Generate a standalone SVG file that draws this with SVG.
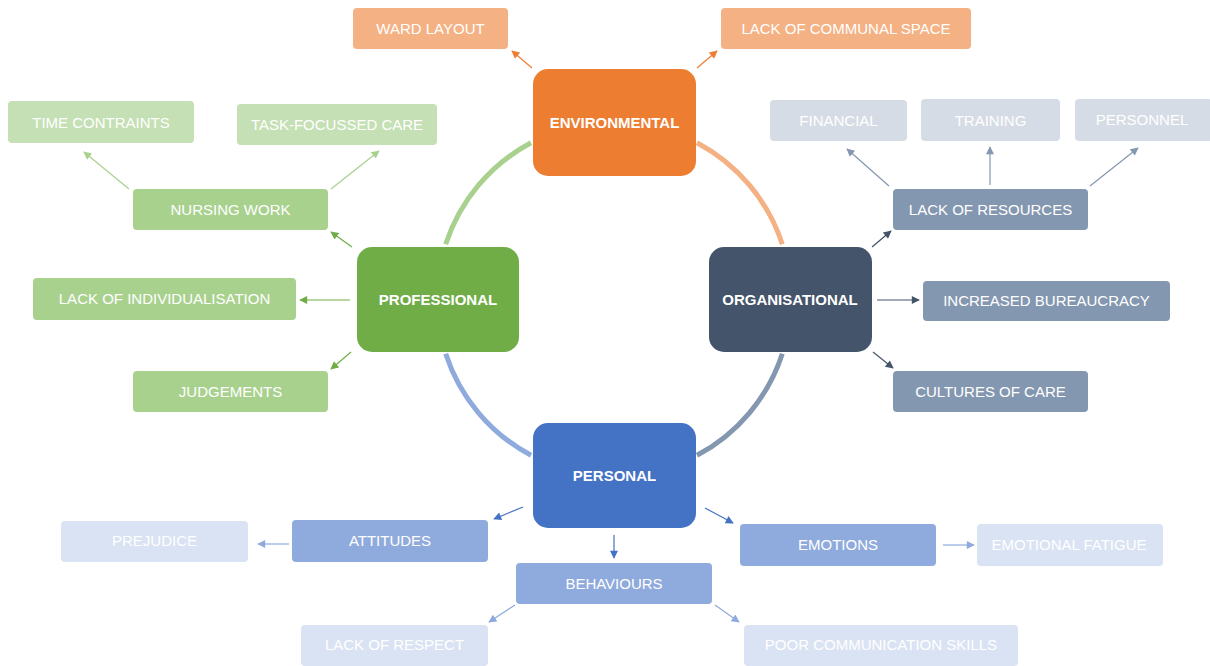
<svg xmlns="http://www.w3.org/2000/svg" width="1210" height="666" viewBox="0 0 1210 666">
<style>
text{font-family:"Liberation Sans",Arial,sans-serif;fill:#fff;text-anchor:middle;dominant-baseline:central}
.m{font-size:15px;font-weight:bold}
.s{font-size:15px}
.arc{fill:none;stroke-width:5}
.c{fill:none;stroke-width:1.2}
</style>
<defs>
<marker id="aO" viewBox="0 0 10 10" refX="9" refY="5" markerWidth="9" markerHeight="8" markerUnits="userSpaceOnUse" orient="auto"><path d="M0,0L10,5L0,10z" fill="#ED7D31"/></marker>
<marker id="aG" viewBox="0 0 10 10" refX="9" refY="5" markerWidth="9" markerHeight="8" markerUnits="userSpaceOnUse" orient="auto"><path d="M0,0L10,5L0,10z" fill="#70AD47"/></marker>
<marker id="aLG" viewBox="0 0 10 10" refX="9" refY="5" markerWidth="9" markerHeight="8" markerUnits="userSpaceOnUse" orient="auto"><path d="M0,0L10,5L0,10z" fill="#A9D18E"/></marker>
<marker id="aD" viewBox="0 0 10 10" refX="9" refY="5" markerWidth="9" markerHeight="8" markerUnits="userSpaceOnUse" orient="auto"><path d="M0,0L10,5L0,10z" fill="#44546A"/></marker>
<marker id="aS" viewBox="0 0 10 10" refX="9" refY="5" markerWidth="9" markerHeight="8" markerUnits="userSpaceOnUse" orient="auto"><path d="M0,0L10,5L0,10z" fill="#8497B0"/></marker>
<marker id="aB" viewBox="0 0 10 10" refX="9" refY="5" markerWidth="9" markerHeight="8" markerUnits="userSpaceOnUse" orient="auto"><path d="M0,0L10,5L0,10z" fill="#4472C4"/></marker>
<marker id="aLB" viewBox="0 0 10 10" refX="9" refY="5" markerWidth="9" markerHeight="8" markerUnits="userSpaceOnUse" orient="auto"><path d="M0,0L10,5L0,10z" fill="#8FAADC"/></marker>
</defs>
<g id="connectors">
<path class="arc" stroke="#A9D18E" d="M445.7,244.3A177,177 0 0 1 531,142.7"/>
<path class="arc" stroke="#F4B183" d="M697,142.7A177,177 0 0 1 782.3,244.3"/>
<path class="arc" stroke="#8497B0" d="M782.3,353.7A177,177 0 0 1 697,455.3"/>
<path class="arc" stroke="#8FAADC" d="M531,455.3A177,177 0 0 1 445.7,353.7"/>
<line class="c" stroke="#ED7D31" marker-end="url(#aO)" x1="532" y1="68" x2="512" y2="51"/>
<line class="c" stroke="#ED7D31" marker-end="url(#aO)" x1="697" y1="68" x2="717" y2="51"/>
<line class="c" stroke="#70AD47" marker-end="url(#aG)" x1="352" y1="247" x2="331" y2="232"/>
<line class="c" stroke="#70AD47" marker-end="url(#aG)" x1="350" y1="300" x2="300" y2="300"/>
<line class="c" stroke="#70AD47" marker-end="url(#aG)" x1="351" y1="352" x2="331" y2="369"/>
<line class="c" stroke="#A9D18E" marker-end="url(#aLG)" x1="129" y1="189" x2="84" y2="152"/>
<line class="c" stroke="#A9D18E" marker-end="url(#aLG)" x1="331" y1="189" x2="379" y2="151"/>
<line class="c" stroke="#44546A" marker-end="url(#aD)" x1="872" y1="247" x2="891" y2="231"/>
<line class="c" stroke="#44546A" marker-end="url(#aD)" x1="877" y1="300" x2="919" y2="300"/>
<line class="c" stroke="#44546A" marker-end="url(#aD)" x1="873" y1="352" x2="893" y2="368"/>
<line class="c" stroke="#8497B0" marker-end="url(#aS)" x1="889" y1="186" x2="847" y2="149"/>
<line class="c" stroke="#8497B0" marker-end="url(#aS)" x1="990" y1="185" x2="990" y2="147"/>
<line class="c" stroke="#8497B0" marker-end="url(#aS)" x1="1090" y1="186" x2="1138" y2="148"/>
<line class="c" stroke="#4472C4" marker-end="url(#aB)" x1="523" y1="507" x2="494" y2="519"/>
<line class="c" stroke="#4472C4" marker-end="url(#aB)" x1="614" y1="535" x2="614" y2="558"/>
<line class="c" stroke="#4472C4" marker-end="url(#aB)" x1="705" y1="508" x2="733" y2="523"/>
<line class="c" stroke="#8FAADC" marker-end="url(#aLB)" x1="289" y1="544" x2="258" y2="544"/>
<line class="c" stroke="#8FAADC" marker-end="url(#aLB)" x1="515" y1="605" x2="489" y2="622"/>
<line class="c" stroke="#8FAADC" marker-end="url(#aLB)" x1="715" y1="605" x2="739" y2="622"/>
<line class="c" stroke="#8FAADC" marker-end="url(#aLB)" x1="943" y1="545" x2="974" y2="545"/>
</g>
<g id="environmental"><rect x="533" y="69" width="163" height="107" rx="15" fill="#ED7D31"/><text class="m" x="614.5" y="122">ENVIRONMENTAL</text></g>
<g id="professional"><rect x="357" y="247" width="162" height="105" rx="15" fill="#70AD47"/><text class="m" x="438" y="299">PROFESSIONAL</text></g>
<g id="organisational"><rect x="709" y="247" width="163" height="105" rx="15" fill="#44546A"/><text class="m" x="790" y="299">ORGANISATIONAL</text></g>
<g id="personal"><rect x="533" y="423" width="163" height="105" rx="15" fill="#4472C4"/><text class="m" x="614.5" y="475">PERSONAL</text></g>
<g id="ward-layout"><rect x="353" y="8" width="155" height="41" rx="4" fill="#F4B183"/><text class="s" x="430.5" y="28">WARD LAYOUT</text></g>
<g id="lack-communal"><rect x="721" y="8" width="250" height="41" rx="4" fill="#F4B183"/><text class="s" x="846" y="28">LACK OF COMMUNAL SPACE</text></g>
<g id="time-contraints"><rect x="8" y="101" width="186" height="42" rx="4" fill="#C5E0B4"/><text class="s" x="101" y="122">TIME CONTRAINTS</text></g>
<g id="task-focussed"><rect x="237" y="104" width="200" height="41" rx="4" fill="#C5E0B4"/><text class="s" x="337" y="124">TASK-FOCUSSED CARE</text></g>
<g id="nursing-work"><rect x="133" y="189" width="195" height="41" rx="4" fill="#A9D18E"/><text class="s" x="230.5" y="209">NURSING WORK</text></g>
<g id="lack-individualisation"><rect x="33" y="278" width="263" height="42" rx="4" fill="#A9D18E"/><text class="s" x="164.5" y="298">LACK OF INDIVIDUALISATION</text></g>
<g id="judgements"><rect x="133" y="371" width="195" height="41" rx="4" fill="#A9D18E"/><text class="s" x="230.5" y="391">JUDGEMENTS</text></g>
<g id="financial"><rect x="770" y="100" width="137" height="41" rx="4" fill="#D6DCE5"/><text class="s" x="838.5" y="120">FINANCIAL</text></g>
<g id="training"><rect x="921" y="99" width="139" height="42" rx="4" fill="#D6DCE5"/><text class="s" x="990.5" y="120">TRAINING</text></g>
<g id="personnel"><rect x="1075" y="99" width="137" height="42" rx="4" fill="#D6DCE5"/><text class="s" x="1142" y="119">PERSONNEL</text></g>
<g id="lack-resources"><rect x="893" y="189" width="195" height="41" rx="4" fill="#8497B0"/><text class="s" x="990.5" y="209">LACK OF RESOURCES</text></g>
<g id="increased-bureaucracy"><rect x="923" y="281" width="247" height="40" rx="4" fill="#8497B0"/><text class="s" x="1046.5" y="300">INCREASED BUREAUCRACY</text></g>
<g id="cultures-care"><rect x="893" y="371" width="195" height="41" rx="4" fill="#8497B0"/><text class="s" x="990.5" y="391">CULTURES OF CARE</text></g>
<g id="prejudice"><rect x="61" y="521" width="187" height="41" rx="4" fill="#DAE3F3"/><text class="s" x="154.5" y="540">PREJUDICE</text></g>
<g id="attitudes"><rect x="292" y="520" width="196" height="42" rx="4" fill="#8FAADC"/><text class="s" x="390" y="540">ATTITUDES</text></g>
<g id="behaviours"><rect x="516" y="563" width="196" height="41" rx="4" fill="#8FAADC"/><text class="s" x="614" y="583">BEHAVIOURS</text></g>
<g id="emotions"><rect x="740" y="524" width="196" height="42" rx="4" fill="#8FAADC"/><text class="s" x="838" y="544">EMOTIONS</text></g>
<g id="emotional-fatigue"><rect x="977" y="524" width="186" height="42" rx="4" fill="#DAE3F3"/><text class="s" x="1069" y="544">EMOTIONAL FATIGUE</text></g>
<g id="lack-respect"><rect x="301" y="625" width="187" height="41" rx="4" fill="#DAE3F3"/><text class="s" x="394.5" y="644">LACK OF RESPECT</text></g>
<g id="poor-communication"><rect x="744" y="625" width="274" height="41" rx="4" fill="#DAE3F3"/><text class="s" x="881" y="644">POOR COMMUNICATION SKILLS</text></g>
</svg>
